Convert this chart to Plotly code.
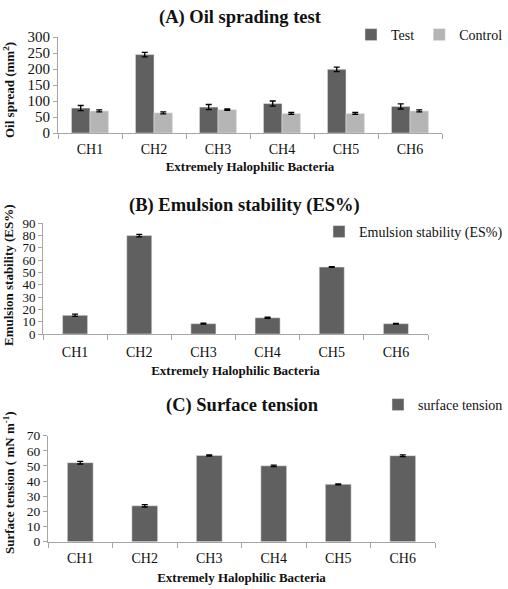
import plotly.graph_objects as go

categories = ["CH1", "CH2", "CH3", "CH4", "CH5", "CH6"]

oil_test = [78, 245, 81, 92, 199, 83]
oil_test_err = [8, 7, 8, 8, 7, 8]
oil_control = [69, 63, 73, 61, 61, 69]
oil_control_err = [3, 3, 2, 3, 3, 3]

es_values = [15.2, 80.0, 8.4, 13.2, 54.4, 8.4]
es_err = [0.9, 1.0, 0.4, 0.4, 0.3, 0.3]

st_values = [52.2, 23.7, 57.0, 50.1, 37.9, 56.8]
st_err = [0.9, 0.8, 0.4, 0.5, 0.3, 0.6]

W, H = 508, 589
FONT = "Liberation Serif"
DARK = "#606060"
LIGHT = "#b5b5b5"
AX = "#a6a6a6"
TXT = "#111"


def px_x(v):
    return v / W


def px_y(v):
    return 1 - v / H


def err(arr):
    return dict(type="data", array=arr, visible=True, color="black", thickness=1.3, width=3)


fig = go.Figure()

fig.add_trace(go.Bar(x=categories, y=oil_test, name="Test", marker_color=DARK,
                     error_y=err(oil_test_err), xaxis="x", yaxis="y", legend="legend"))
fig.add_trace(go.Bar(x=categories, y=oil_control, name="Control", marker_color=LIGHT,
                     error_y=err(oil_control_err), xaxis="x", yaxis="y", legend="legend"))
fig.add_trace(go.Bar(x=categories, y=es_values, name="Emulsion stability (ES%)", marker_color=DARK,
                     error_y=err(es_err), width=0.39, xaxis="x2", yaxis="y2", legend="legend2"))
fig.add_trace(go.Bar(x=categories, y=st_values, name="surface tension", marker_color=DARK,
                     error_y=err(st_err), width=0.4, xaxis="x3", yaxis="y3", legend="legend3"))


def xax(domain, anchor, labelgap, standoff):
    return dict(domain=domain, anchor=anchor, type="category", showline=True, linecolor=AX,
                linewidth=1, ticks="outside", tickson="boundaries", ticklen=5, tickcolor=AX,
                showgrid=False, ticklabelstandoff=labelgap, automargin=False,
                tickfont=dict(family=FONT, size=14, color=TXT),
                title=dict(text="<b>Extremely Halophilic Bacteria</b>",
                           font=dict(family=FONT, size=13, color=TXT), standoff=standoff))


def yax(domain, anchor, rng, dtick, fsize):
    return dict(domain=domain, anchor=anchor, range=rng, dtick=dtick, showline=True, linecolor=AX,
                linewidth=1, ticks="outside", ticklen=4, tickcolor=AX, showgrid=False,
                zeroline=False, automargin=False, tickfont=dict(family=FONT, size=fsize, color=TXT))


def legend(x, y):
    return dict(x=x, y=y, xanchor="right", yanchor="middle", orientation="h",
                font=dict(family=FONT, size=14, color=TXT), bgcolor="rgba(0,0,0,0)",
                itemwidth=30, tracegroupgap=0)


fig.update_layout(
    width=W, height=H, margin=dict(l=0, r=0, t=0, b=0, autoexpand=False),
    paper_bgcolor="white", plot_bgcolor="white",
    barmode="group", bargap=0.42, bargroupgap=0,
    font=dict(family=FONT, color=TXT),
    xaxis=xax([px_x(58), px_x(442)], "y", 3, 6),
    yaxis=yax([px_y(133), px_y(37)], "x", [0, 300], 50, 15),
    xaxis2=xax([px_x(43), px_x(428)], "y2", 5, 7),
    yaxis2=yax([px_y(334), px_y(223.3)], "x2", [0, 90], 10, 13),
    xaxis3=xax([px_x(48), px_x(435)], "y3", 3, 8),
    yaxis3=yax([px_y(541.7), px_y(435.7)], "x3", [0, 70], 10, 13.5),
    legend=legend(1.0, px_y(35)),
    legend2=legend(1.0, px_y(232)),
    legend3=legend(1.0, px_y(405)),
    showlegend=True,
)

titles = [("<b>(A) Oil sprading test</b>", 240, 18),
          ("<b>(B) Emulsion stability (ES%)</b>", 244, 206),
          ("<b>(C) Surface tension</b>", 242, 405)]
for text, x, y in titles:
    fig.add_annotation(text=text, x=px_x(x), y=px_y(y), xref="paper", yref="paper",
                       showarrow=False, xanchor="center", yanchor="middle",
                       font=dict(family=FONT, size=18.5, color=TXT))

ytitles = [("<b>Oil spread (mm<sup>2</sup>)</b>", 9, 90),
           ("<b>Emulsion stability (ES%)</b>", 8, 275),
           ("<b>Surface tension ( mN m<sup>-1</sup>)</b>", 9, 483)]
for text, x, y in ytitles:
    fig.add_annotation(text=text, x=px_x(x), y=px_y(y), xref="paper", yref="paper",
                       showarrow=False, xanchor="center", yanchor="middle", textangle=-90,
                       font=dict(family=FONT, size=13, color=TXT))

fig.write_html("out.html")
